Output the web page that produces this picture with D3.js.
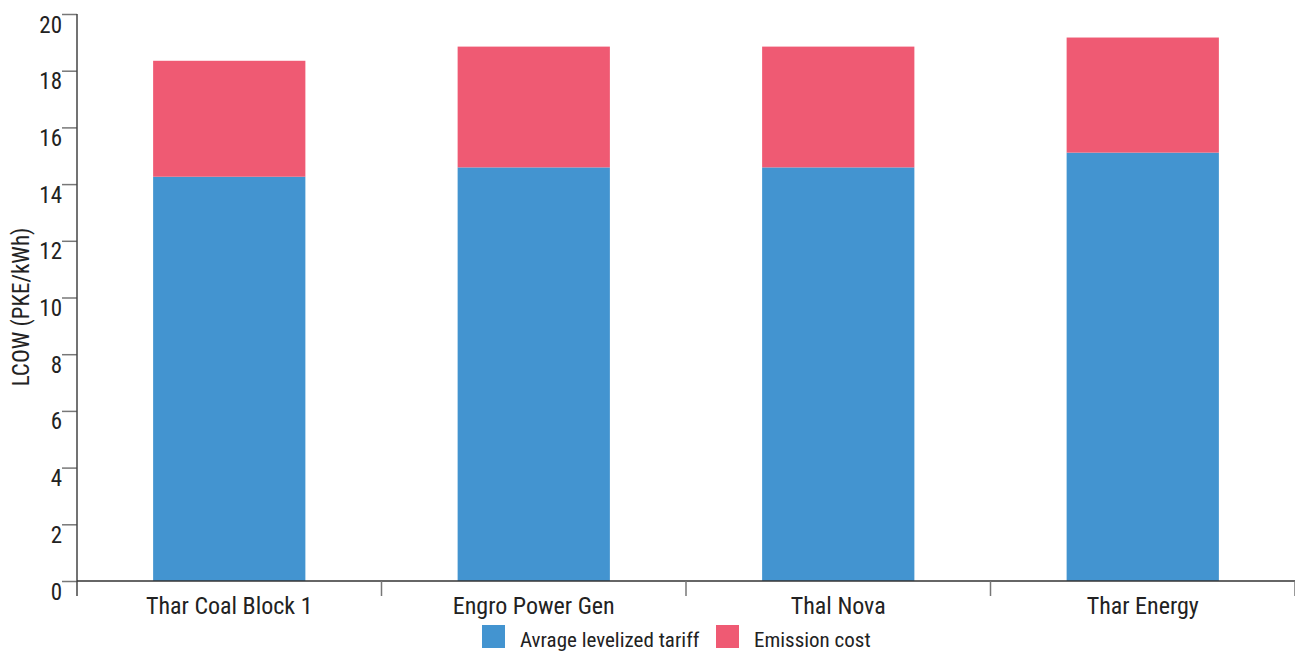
<!DOCTYPE html>
<html><head><meta charset="utf-8">
<script src="https://cdn.jsdelivr.net/npm/d3@7"></script>
<style>
body{margin:0;background:#fff;}
text{font-family:"Roboto Condensed","Liberation Sans Narrow",Roboto,sans-serif;fill:#222;}
</style></head>
<body><svg id="c" width="1295" height="653"></svg>
<script>
const categories = ["Thar Coal Block 1","Engro Power Gen","Thal Nova","Thar Energy"];
const tariff = [14.26, 14.59, 14.59, 15.11];
const emission = [4.09, 4.26, 4.26, 4.06];
const yTicks = [0,2,4,6,8,10,12,14,16,18,20];
const seriesNames = ["Avrage levelized tariff","Emission cost"];
const colors = ["#4394D0","#EF5A73"];

const svg = d3.select("#c");
const x = d3.scaleBand().domain(categories).range([77,1295]).paddingInner(0.5).paddingOuter(0.25);
const y = d3.scaleLinear().domain([0,20]).range([581,14]);

const data = categories.map((c,i)=>({cat:c, tariff:tariff[i], emission:emission[i]}));
const stack = d3.stack().keys(["tariff","emission"])(data);

svg.append("g").selectAll("g").data(stack).join("g")
  .attr("fill",(d,i)=>colors[i])
  .selectAll("rect").data(d=>d).join("rect")
  .attr("x",d=>x(d.data.cat)).attr("width",x.bandwidth())
  .attr("y",d=>y(d[1])).attr("height",d=>y(d[0])-y(d[1]));

// y axis
const ya = svg.append("g").attr("transform","translate(77,0)")
  .call(d3.axisLeft(y).tickValues(yTicks).tickSize(15).tickPadding(0).tickSizeOuter(0));
ya.select(".domain").remove();
ya.selectAll(".tick line").attr("stroke","#777").attr("stroke-width",1.5);
ya.selectAll(".tick text").attr("x",-15).attr("dy",null).attr("y",18).attr("font-size",23).attr("fill","#222").style("font-family",null);
svg.append("line").attr("x1",77).attr("x2",77).attr("y1",14).attr("y2",596).attr("stroke","#444").attr("stroke-width",1.5);

// x axis
svg.append("line").attr("x1",77).attr("x2",1295).attr("y1",581).attr("y2",581).attr("stroke","#333").attr("stroke-width",1.5);
const bounds = d3.range(1,categories.length+1).map(i=>77+i*(1218/categories.length));
svg.append("g").selectAll("line").data(bounds).join("line")
  .attr("x1",d=>d).attr("x2",d=>d).attr("y1",581).attr("y2",596).attr("stroke","#777").attr("stroke-width",1.5);
svg.append("g").selectAll("text").data(categories).join("text")
  .attr("x",d=>x(d)+x.bandwidth()/2).attr("y",614).attr("text-anchor","middle").attr("font-size",24).text(d=>d);

// y label
svg.append("text").attr("transform","translate(29,307) rotate(-90)").attr("text-anchor","middle").attr("font-size",23).text("LCOW (PKE/kWh)");

// legend
const lg = svg.append("g");
const lx = [482,716];
seriesNames.forEach((n,i)=>{
  lg.append("rect").attr("x",lx[i]).attr("y",625).attr("width",23).attr("height",23).attr("fill",colors[i]);
  lg.append("text").attr("x",lx[i]+38).attr("y",647).attr("font-size",21).text(n);
});
</script></body></html>
